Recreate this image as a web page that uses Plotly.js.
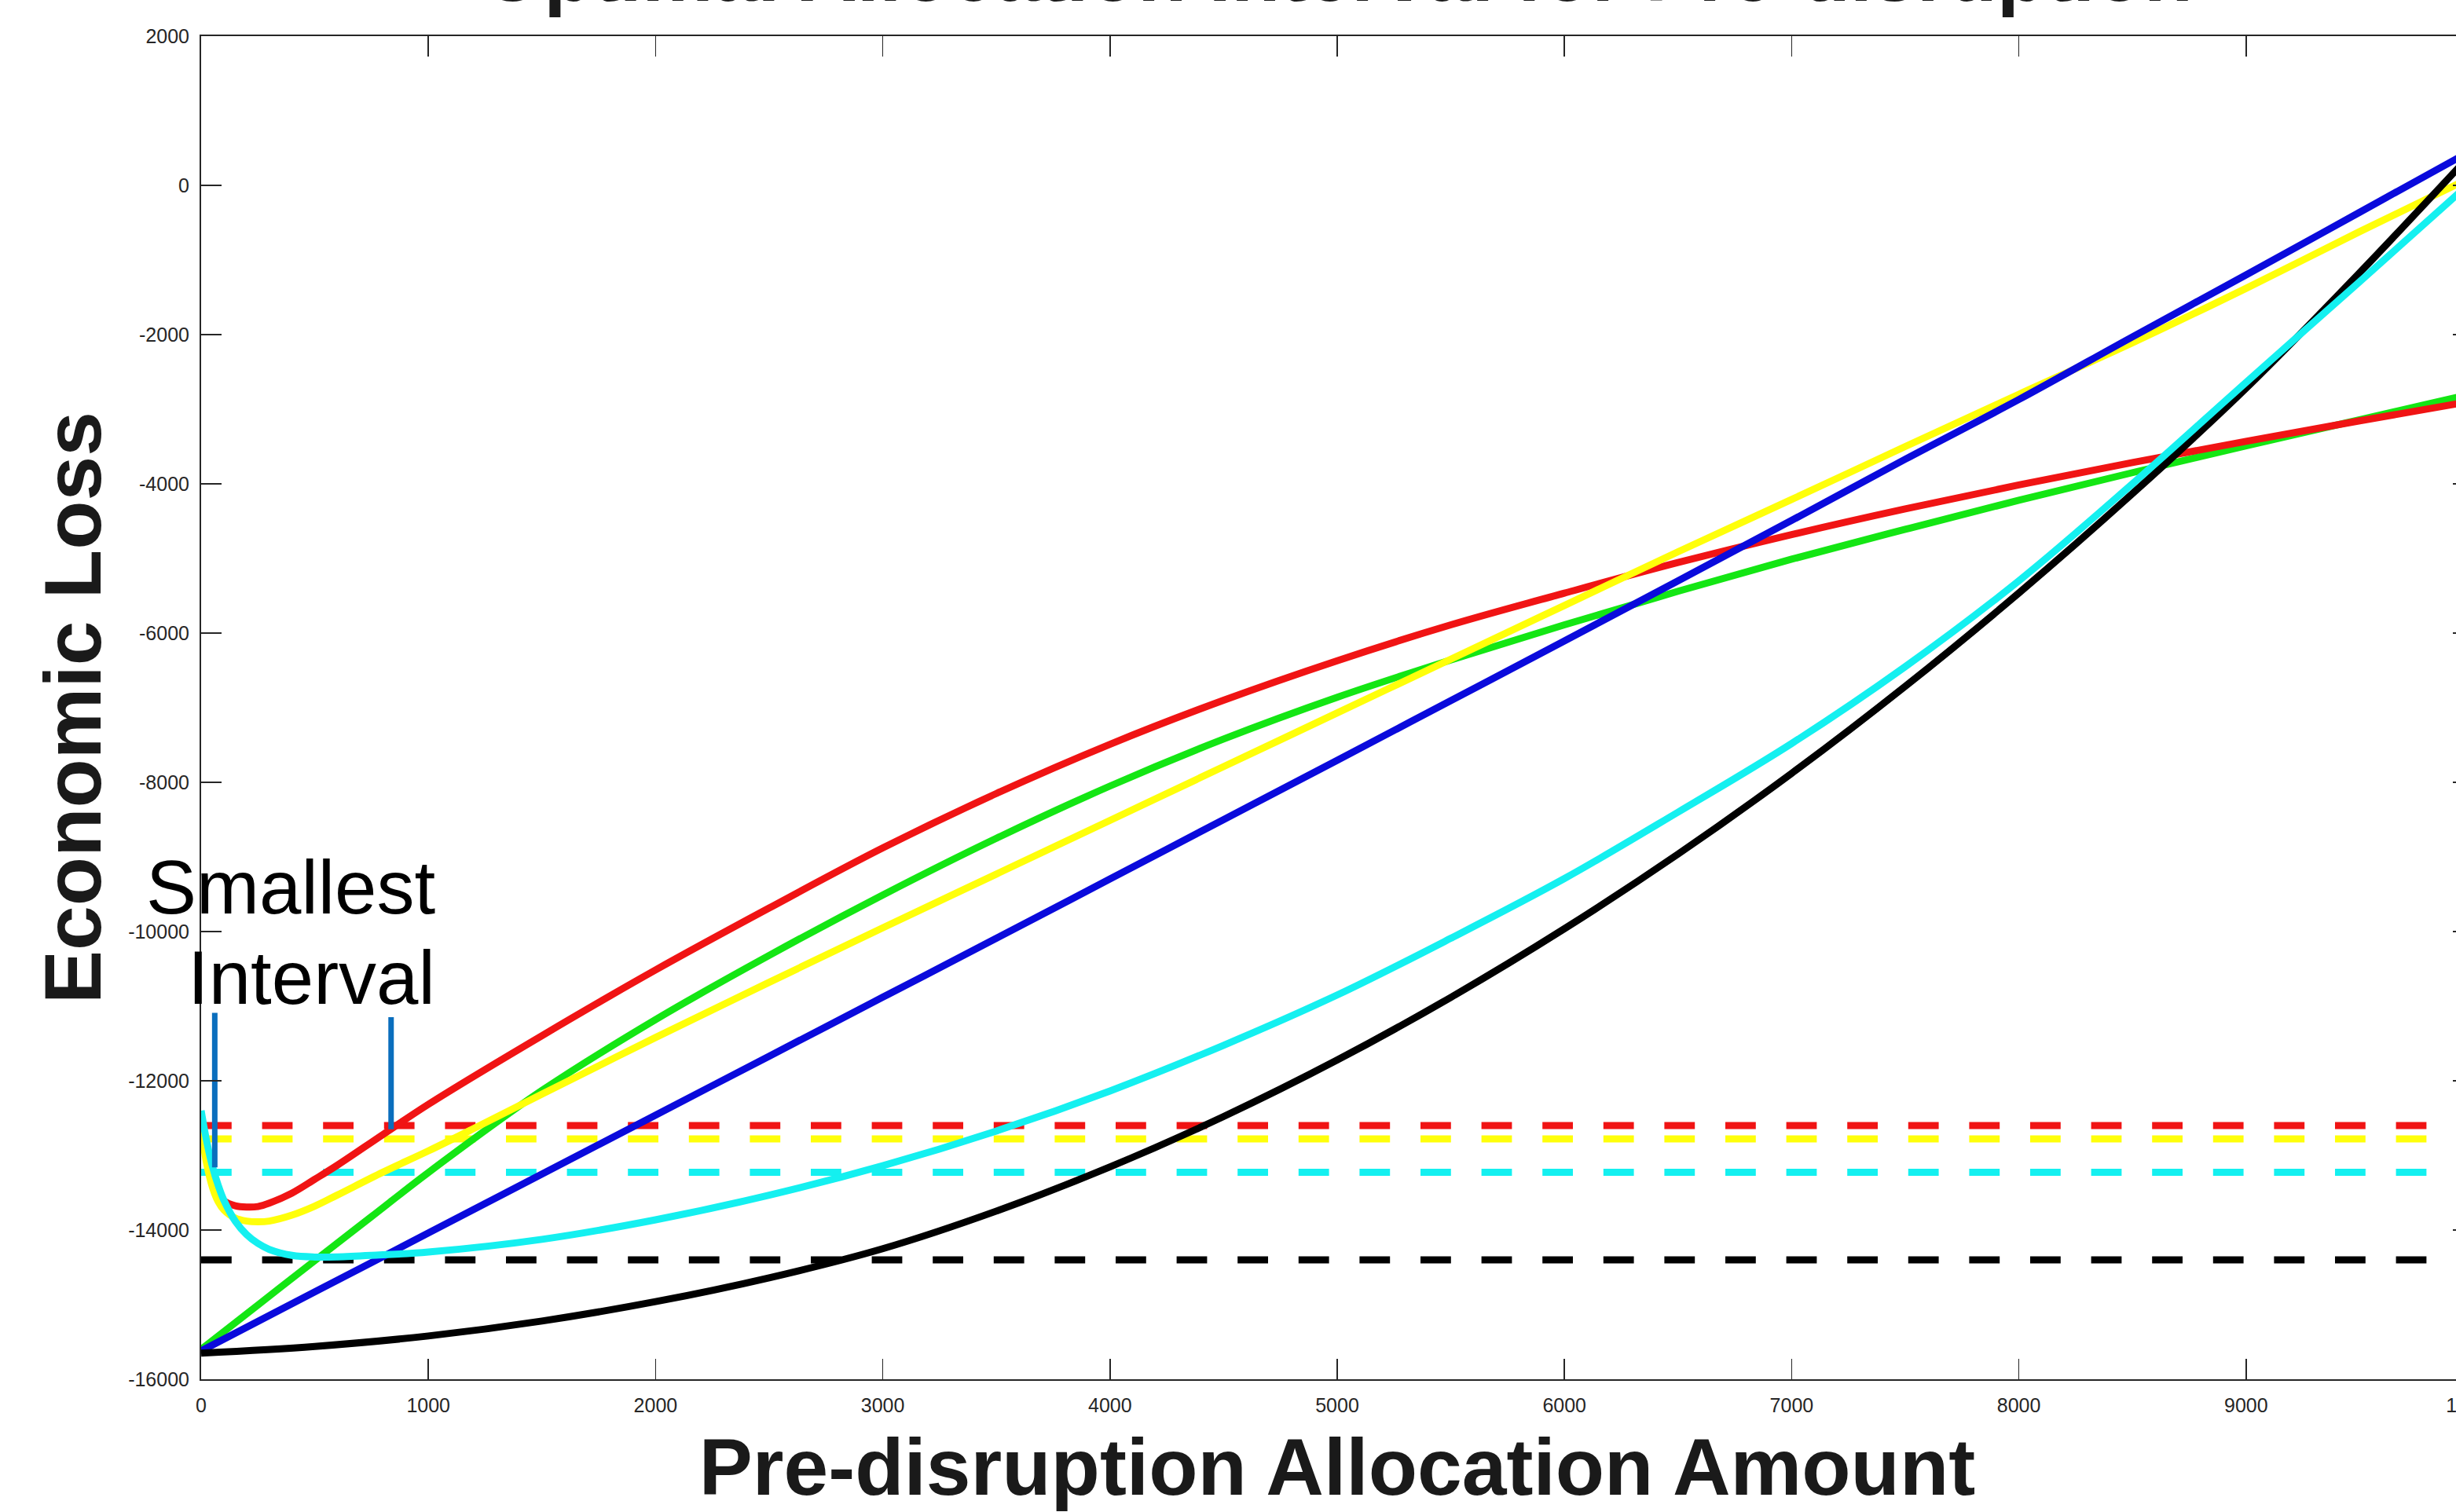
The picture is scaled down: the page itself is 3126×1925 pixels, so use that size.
<!DOCTYPE html>
<html>
<head>
<meta charset="utf-8">
<script src="https://cdn.plot.ly/plotly-3.0.1.min.js"></script>
<style>
  html, body { margin: 0; padding: 0; overflow: hidden; background: #ffffff; width: 3126px; height: 1925px; }
  #chart { position: absolute; left: 0; top: -130px; width: 3200px; height: 2055px; }
</style>
</head>
<body>
<div id="chart"></div>
<script>
// ---------------- data ----------------
const redX    = [0, 25, 50, 75, 100, 150, 200, 250, 300, 400, 500, 600, 800, 1000, 1500, 2000, 2500, 3000, 3500, 4000, 4500, 5000, 5500, 6000, 6500, 7000, 7500, 8000, 8500, 9000, 9500, 10000];
const redY    = [-12550, -13000, -13330, -13520, -13610, -13675, -13692, -13685, -13640, -13505, -13320, -13130, -12720, -12315, -11395, -10515, -9685, -8880, -8150, -7490, -6900, -6370, -5890, -5465, -5055, -4680, -4335, -4015, -3715, -3430, -3155, -2890];

const greenX  = [0, 250, 500, 750, 1000, 1500, 2000, 2500, 3000, 3500, 4000, 4500, 5000, 5500, 6000, 6500, 7000, 7500, 8000, 8500, 9000, 9500, 10000];
const greenY  = [-15600, -15005, -14410, -13820, -13230, -12130, -11180, -10320, -9510, -8750, -8050, -7420, -6860, -6360, -5890, -5440, -5010, -4610, -4220, -3850, -3490, -3140, -2790];

const yellowX = [0, 25, 50, 75, 100, 150, 200, 250, 300, 400, 500, 600, 800, 1000, 1200, 1500, 2000, 2500, 3000, 3500, 4000, 4500, 5000, 5500, 6000, 6500, 7000, 7500, 8000, 8500, 9000, 9500, 10000];
const yellowY = [-12650, -13120, -13430, -13620, -13730, -13840, -13880, -13890, -13880, -13800, -13680, -13530, -13225, -12940, -12640, -12180, -11420, -10680, -9950, -9230, -8510, -7790, -7070, -6350, -5630, -4910, -4210, -3500, -2800, -2110, -1380, -620, 120];

const blueX   = [0, 500, 1000, 1500, 2000, 2500, 3000, 3500, 4000, 4500, 5000, 5500, 6000, 6500, 7000, 7500, 8000, 8500, 9000, 9500, 10000];
const blueY   = [-15620, -14830, -14040, -13250, -12460, -11670, -10880, -10090, -9295, -8500, -7705, -6905, -6105, -5300, -4490, -3670, -2870, -2030, -1200, -360, 480];

const blackX  = [0, 500, 1000, 1500, 2000, 2500, 3000, 3500, 4000, 4500, 5000, 5500, 6000, 6500, 7000, 7500, 8000, 8500, 9000, 9500, 10000];
const blackY  = [-15650, -15560, -15420, -15220, -14960, -14640, -14250, -13746, -13154, -12479, -11722, -10882, -9962, -8962, -7880, -6713, -5463, -4131, -2719, -1170, 450];

const cyanX   = [0, 25, 50, 75, 100, 150, 200, 250, 300, 400, 500, 600, 750, 1000, 1500, 2000, 2500, 3000, 3500, 4000, 4500, 5000, 5500, 6000, 6500, 7000, 7500, 8000, 8500, 9000, 9500, 10000];
const cyanY   = [-12400, -12820, -13150, -13400, -13600, -13880, -14060, -14180, -14260, -14340, -14362, -14360, -14340, -14295, -14125, -13863, -13533, -13138, -12673, -12136, -11524, -10850, -10090, -9290, -8400, -7480, -6450, -5300, -4000, -2640, -1290, 70];

// horizontal dashed thresholds (colour order: red, yellow, cyan, black)
const levelNames  = ['red', 'yellow', 'cyan', 'black'];
const levelValues = [-12600, -12780, -13225, -14400];
const levelSpan   = [0, 10000];

// "Smallest Interval" markers
const markerX       = [60, 836];
const markerTopY    = [-11090, -11148];
const markerBottomY = [-13160, -12650];
const labelLines    = ['Smallest', 'Interval'];
const labelX        = [1037, 1037];
const labelY        = [-9400, -10611];

// ticks
const xTickVals = [0, 1000, 2000, 3000, 4000, 5000, 6000, 7000, 8000, 9000, 10000];
const xTickText = ['0', '1000', '2000', '3000', '4000', '5000', '6000', '7000', '8000', '9000', '10000'];
const yTickVals = [-16000, -14000, -12000, -10000, -8000, -6000, -4000, -2000, 0, 2000];
const yTickText = ['-16000', '-14000', '-12000', '-10000', '-8000', '-6000', '-4000', '-2000', '0', '2000'];

// ---------------- styling ----------------
const COLORS = { red: '#f01414', green: '#14e614', yellow: '#ffff0a', blue: '#0a0adc', black: '#000000', cyan: '#14f0f0' };
const LW = 9;
const FONT = 'Liberation Sans, Arial, Helvetica, sans-serif';
const AXC = '#262626';

const traces = [];
levelValues.forEach((v, i) => {
  traces.push({
    x: levelSpan, y: [v, v], type: 'scatter', mode: 'lines', hoverinfo: 'skip',
    line: { color: COLORS[levelNames[i]], width: LW, dash: '38.8px,38.8px' }
  });
});
const curves = [
  ['green', greenX, greenY], ['red', redX, redY], ['yellow', yellowX, yellowY],
  ['blue', blueX, blueY], ['black', blackX, blackY], ['cyan', cyanX, cyanY]
];
curves.forEach(c => {
  traces.push({ x: c[1], y: c[2], type: 'scatter', mode: 'lines', line: { color: COLORS[c[0]], width: LW, shape: 'spline', smoothing: 1 }, hoverinfo: 'skip' });
});
markerX.forEach((mx, i) => {
  traces.push({ x: [mx, mx], y: [markerTopY[i], markerBottomY[i]], type: 'scatter', mode: 'lines', line: { color: '#0a6ebd', width: 7 }, hoverinfo: 'skip' });
});

const annotations = labelLines.map((t, i) => ({
  x: labelX[i], y: labelY[i], xref: 'x', yref: 'y', text: t, showarrow: false,
  xanchor: 'right', yanchor: 'middle', font: { family: FONT, size: 96, color: '#000000' }
}));

const layout = {
  width: 3200, height: 2055,
  margin: { l: 256, r: 52, t: 176, b: 169, pad: 0 },
  paper_bgcolor: '#ffffff', plot_bgcolor: '#ffffff',
  showlegend: false,
  title: {
    text: 'Optimal Allocation Interval for Pre-disruption',
    font: { family: FONT, size: 102, color: '#1a1a1a', weight: 'bold' },
    x: 0.5, xref: 'paper', y: 1 - 95 / 2055, yref: 'container', yanchor: 'middle'
  },
  xaxis: {
    range: [0, 10000], tickvals: xTickVals, ticktext: xTickText,
    ticks: 'inside', ticklen: 26, tickwidth: 1.5, tickcolor: AXC,
    showline: true, linecolor: AXC, linewidth: 2, mirror: 'ticks',
    showgrid: false, zeroline: false, ticklabelstandoff: 10,
    tickfont: { family: FONT, size: 25, color: AXC },
    title: { text: 'Pre-disruption Allocation Amount', standoff: 39, font: { family: FONT, size: 102, color: '#1a1a1a', weight: 'bold' } }
  },
  yaxis: {
    range: [-16000, 2000], tickvals: yTickVals, ticktext: yTickText,
    ticks: 'inside', ticklen: 26, tickwidth: 1.5, tickcolor: AXC,
    showline: true, linecolor: AXC, linewidth: 2, mirror: 'ticks',
    showgrid: false, zeroline: false, ticklabelstandoff: 8,
    tickfont: { family: FONT, size: 25, color: AXC },
    title: { text: 'Economic Loss', standoff: 0, font: { family: FONT, size: 102, color: '#1a1a1a', weight: 'bold' } }
  },
  annotations: annotations
};

Plotly.newPlot('chart', traces, layout, { displayModeBar: false, staticPlot: true });
</script>
</body>
</html>
